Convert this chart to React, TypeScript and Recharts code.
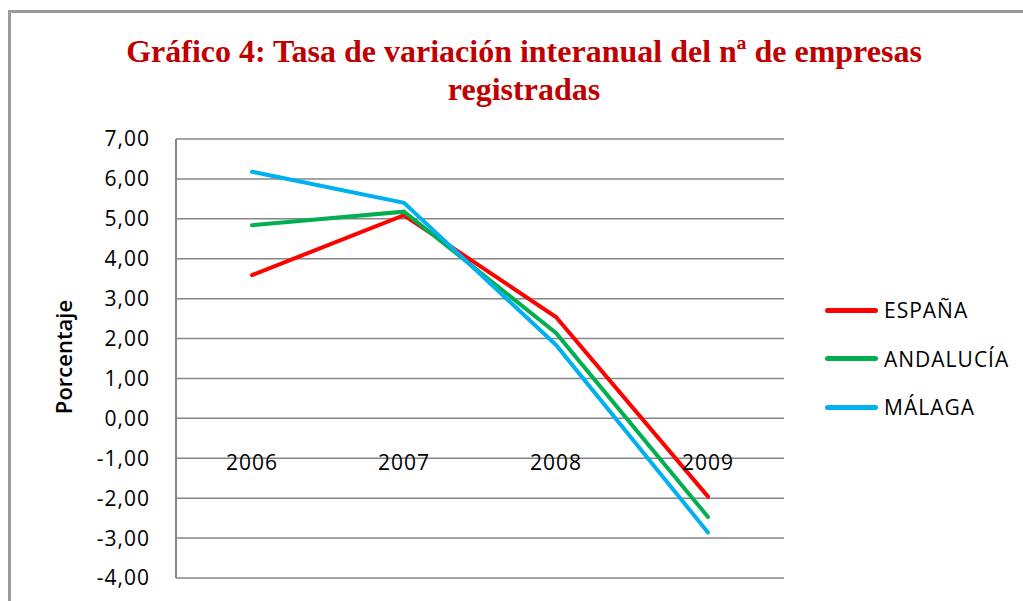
import React from 'react';
import { LineChart, Line, XAxis, YAxis, CartesianGrid } from 'recharts';

const years = ['2006', '2007', '2008', '2009'];
const espana = [3.59, 5.09, 2.54, -1.96];
const andalucia = [4.84, 5.18, 2.14, -2.47];
const malaga = [6.18, 5.4, 1.84, -2.86];
const yTicks = [-4, -3, -2, -1, 0, 1, 2, 3, 4, 5, 6, 7];

const SERIES = [
  { key: 'espana', name: 'ESPAÑA', color: '#FF0000' },
  { key: 'andalucia', name: 'ANDALUCÍA', color: '#00B050' },
  { key: 'malaga', name: 'MÁLAGA', color: '#00B0F0' },
];

const data = years.map((year, i) => ({
  year,
  espana: espana[i],
  andalucia: andalucia[i],
  malaga: malaga[i],
}));

const W = 1023;
const H = 601;
const PLOT_TOP = 139;
const PLOT_BOTTOM = 578;
const PLOT_LEFT = 176;
const PLOT_RIGHT = 784;
const Y_MIN = -4;
const Y_MAX = 7;
const FONT = '"Open Sans", "Noto Sans", sans-serif';

// half a category slot, so points sit between tick marks like the original
const HALF_SLOT = (PLOT_RIGHT - PLOT_LEFT) / years.length / 2;
// y pixel of the value 0, where the category axis crosses
const zeroY = PLOT_TOP + ((Y_MAX - 0) / (Y_MAX - Y_MIN)) * (PLOT_BOTTOM - PLOT_TOP);

const fmt = (v: number) => v.toFixed(2).replace('.', ',');

const YearTick = (props: any) => {
  const { x, payload } = props;
  return (
    <text x={x} y={zeroY + 44} textAnchor="middle" dominantBaseline="central"
      fontFamily={FONT} fontSize={21} fill="#000" letterSpacing={1}>
      {payload.value}
    </text>
  );
};

export default function App() {
  return (
    <div style={{ position: 'absolute', left: 0, top: 0, width: W, height: H, overflow: 'hidden', background: '#fff' }}>
      <div style={{ position: 'absolute', left: 8, top: 10, width: 1100, height: 700, borderTop: '3px solid #9a9a9a', borderLeft: '3px solid #9a9a9a' }} />
      <div style={{
        position: 'absolute', left: 0, top: 32, width: 1048, textAlign: 'center',
        fontFamily: '"Liberation Serif", "Times New Roman", serif', fontWeight: 'bold',
        fontSize: 32, lineHeight: '38px', color: '#C00000',
      }}>
        Gráfico 4: Tasa de variación interanual del nª de empresas<br />registradas
      </div>
      <div style={{
        position: 'absolute', left: 63, top: 357, transform: 'translate(-50%, -50%) rotate(-90deg)',
        fontFamily: FONT, fontSize: 22, fontWeight: 600, whiteSpace: 'nowrap', color: '#000',
      }}>
        Porcentaje
      </div>
      <LineChart width={W} height={H} data={data}
        margin={{ top: PLOT_TOP, bottom: 0, left: 0, right: W - PLOT_RIGHT }}
        style={{ position: 'absolute', left: 0, top: 0 }}>
        <CartesianGrid vertical={false} stroke="#868686" strokeWidth={1.5} />
        <XAxis dataKey="year" axisLine={false} tickLine={false} tick={<YearTick />}
          height={H - PLOT_BOTTOM} padding={{ left: HALF_SLOT, right: HALF_SLOT }} />
        <YAxis width={PLOT_LEFT} domain={[Y_MIN, Y_MAX]} ticks={yTicks} interval={0}
          tickFormatter={fmt} tickLine={false} tickSize={0} tickMargin={26}
          axisLine={{ stroke: '#868686', strokeWidth: 2 }}
          tick={{ fontFamily: FONT, fontSize: 21, fill: '#000', letterSpacing: 1 }} />
        {SERIES.map(s => (
          <Line key={s.key} type="linear" dataKey={s.key} name={s.name} stroke={s.color}
            strokeWidth={4} dot={false} strokeLinecap="round" isAnimationActive={false} />
        ))}
      </LineChart>
      <div style={{ position: 'absolute', left: 825, top: 286 }}>
        {SERIES.map(s => (
          <div key={s.key} style={{ display: 'flex', alignItems: 'center', height: 48.5 }}>
            <div style={{ width: 53, height: 5, borderRadius: 3, background: s.color, marginRight: 6 }} />
            <span style={{ fontFamily: FONT, fontSize: 21, letterSpacing: 1, color: '#000' }}>{s.name}</span>
          </div>
        ))}
      </div>
    </div>
  );
}
